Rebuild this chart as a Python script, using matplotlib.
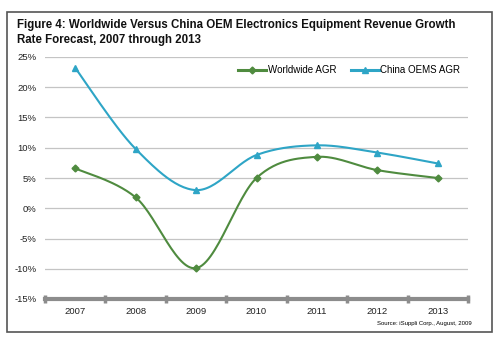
import numpy as np
import matplotlib
matplotlib.use('Agg')
import matplotlib.pyplot as plt
from matplotlib.patches import Rectangle
from matplotlib.ticker import FuncFormatter

years = ['2007', '2008', '2009', '2010', '2011', '2012', '2013']
worldwide = [6.6, 1.8, -9.9, 5.0, 8.5, 6.3, 5.0]
china = [23.2, 9.8, 3.0, 8.8, 10.4, 9.2, 7.4]

title = 'Figure 4: Worldwide Versus China OEM Electronics Equipment Revenue Growth\nRate Forecast, 2007 through 2013'
source = 'Source: iSuppli Corp., August, 2009'

GREEN = '#4f8b3f'
BLUE = '#2ea5c6'

plt.rcParams['font.family'] = ['Liberation Sans', 'DejaVu Sans']


def smooth(x, y, n=30):
    # Catmull-Rom style smoothing like Excel's smoothed line
    x = np.asarray(x, float)
    y = np.asarray(y, float)
    px = np.concatenate([[x[0]], x, [x[-1]]])
    py = np.concatenate([[y[0]], y, [y[-1]]])
    xs, ys = [], []
    t = np.linspace(0, 1, n)
    for i in range(1, len(px) - 2):
        p0, p1, p2, p3 = [np.array([px[j], py[j]]) for j in (i - 1, i, i + 1, i + 2)]
        c1 = p1 + (p2 - p0) / 6
        c2 = p2 - (p3 - p1) / 6
        b = ((1 - t) ** 3)[:, None] * p1 + (3 * (1 - t) ** 2 * t)[:, None] * c1 \
            + (3 * (1 - t) * t ** 2)[:, None] * c2 + (t ** 3)[:, None] * p2
        xs.extend(b[:, 0])
        ys.extend(b[:, 1])
    return np.array(xs), np.array(ys)


fig = plt.figure(figsize=(5, 3.39), dpi=100)
fig.patches.append(Rectangle((7 / 500, 1 - 332 / 339), 485 / 500, 320 / 339,
                             transform=fig.transFigure, fill=False,
                             edgecolor='#555555', linewidth=1.2))
fig.text(17 / 500, 1 - 19 / 339, title, fontsize=8.3, fontweight='bold',
         va='top', ha='left', linespacing=1.3, color='#111111')
fig.text(472 / 500, 1 - 323 / 339, source, fontsize=4.3, ha='right', va='center')

ax = fig.add_axes([45 / 500, 1 - 299 / 339, 423 / 500, 242 / 339])
x = np.arange(len(years))
ax.set_xlim(-0.5, len(years) - 0.5)
ax.set_ylim(-15, 25)
ax.set_yticks(np.arange(-15, 26, 5))
ax.yaxis.set_major_formatter(FuncFormatter(lambda v, p: f'{v:.0f}%'))
ax.grid(axis='y', color='#c4c4c4', linewidth=0.9)
ax.set_axisbelow(True)
for s in ('top', 'right', 'left'):
    ax.spines[s].set_visible(False)
ax.spines['bottom'].set_color('#8c8c8c')
ax.spines['bottom'].set_linewidth(3)
ax.tick_params(axis='y', length=0, labelsize=6.8, pad=6, labelcolor='#222222')
ax.set_xticks(x)
ax.set_xticklabels(years, fontsize=6.8, color='#222222')
ax.tick_params(axis='x', length=0, pad=6)
ax.set_xticks(np.arange(-0.5, len(years), 1), minor=True)
ax.tick_params(axis='x', which='minor', direction='inout', length=6, width=2.5, color='#8c8c8c')

sx, sy = smooth(x, worldwide)
ax.plot(sx, sy, color=GREEN, linewidth=1.5, zorder=3)
ax.plot(x, worldwide, linestyle='none', marker='D', markersize=3.5, color=GREEN, zorder=4)
sx, sy = smooth(x, china)
ax.plot(sx, sy, color=BLUE, linewidth=1.5, zorder=3)
ax.plot(x, china, linestyle='none', marker='^', markersize=4.5, color=BLUE, zorder=4)

h1, = ax.plot([], [], color=GREEN, linewidth=2.2, marker='D', markersize=3.5, label='Worldwide AGR')
h2, = ax.plot([], [], color=BLUE, linewidth=2.2, marker='^', markersize=4.5, label='China OEMS AGR')
ax.legend(handles=[h1, h2], loc='upper left', bbox_to_anchor=(0.456, 0.965), ncol=2,
          frameon=False, fontsize=7, handlelength=2.9, handletextpad=0.15,
          columnspacing=1.5, borderaxespad=0, borderpad=0)

fig.savefig('out.png', dpi=100)
